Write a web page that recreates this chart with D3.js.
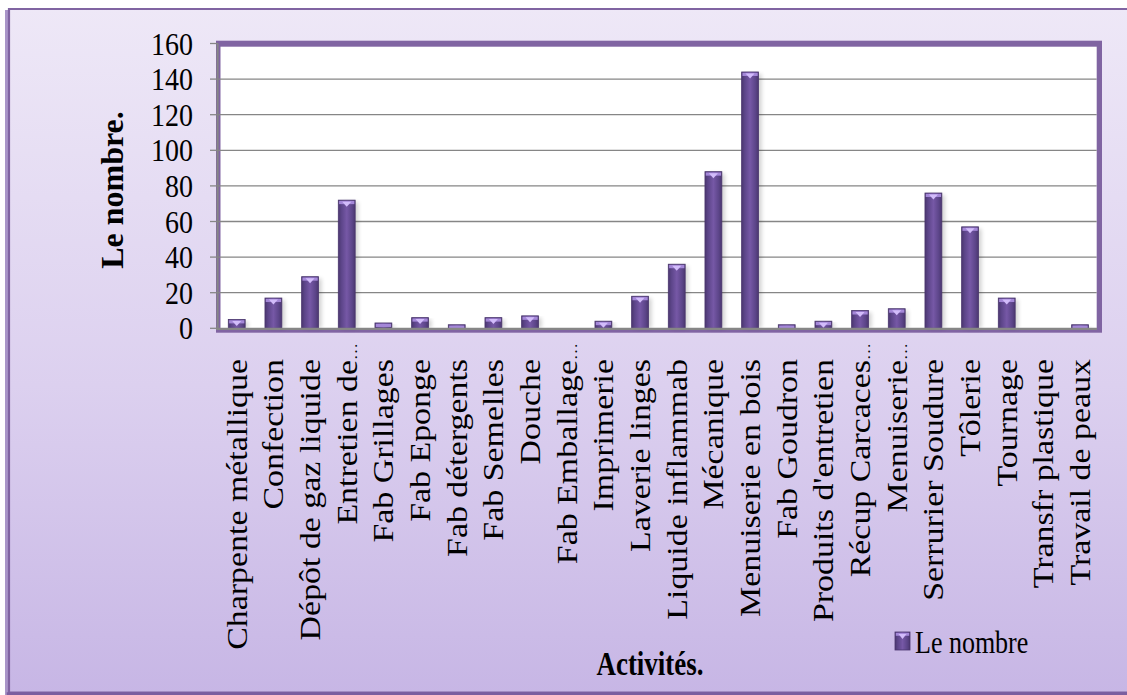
<!DOCTYPE html>
<html lang="fr">
<head>
<meta charset="utf-8">
<title>Le nombre par activité</title>
<script src="https://cdn.jsdelivr.net/npm/d3@7"></script>
<style>
  html, body { margin: 0; padding: 0; background: #ffffff; }
  svg { display: block; }
  text { font-family: "Liberation Serif", "Times New Roman", serif; fill: #000; }
</style>
</head>
<body>
<svg id="chart" width="1127" height="695"></svg>
<script>
// Activités recensées et leur nombre
const categories = [
  "Charpente métallique", "Confection", "Dépôt de gaz liquide", "Entretien de",
  "Fab Grillages", "Fab Eponge", "Fab détergents", "Fab Semelles", "Douche",
  "Fab Emballage", "Imprimerie", "Laverie linges", "Liquide inflammab",
  "Mécanique", "Menuiserie en bois", "Fab Goudron", "Produits d'entretien",
  "Récup Carcaces", "Menuiserie", "Serrurier Soudure", "Tôlerie", "Tournage",
  "Transfr plastique", "Travail de peaux"
];
// labels shortened on the axis (drawn with a trailing ellipsis)
const truncated = ["Entretien de", "Fab Emballage", "Récup Carcaces", "Menuiserie"];
const counts = [5, 17, 29, 72, 3, 6, 2, 6, 7, 0, 4, 18, 36, 88, 144, 2, 4, 10, 11, 76, 57, 17, 0, 2];
const yTicks = [0, 20, 40, 60, 80, 100, 120, 140, 160];
const seriesName = "Le nombre";
const yTitle = "Le nombre.";
const xTitle = "Activités.";

const svg = d3.select("#chart");
const W = 1127, H = 695;

const plot = { left: 218.4, right: 1098.4, top: 43.5, bottom: 328.3 };

const x = d3.scaleBand()
  .domain(categories)
  .range([plot.left, plot.right])
  .paddingInner(0.54)
  .paddingOuter(0.27);

const y = d3.scaleLinear()
  .domain([0, 160])
  .range([plot.bottom, plot.top]);

const defs = svg.append("defs");

// chart background: lavender vertical gradient
const bg = defs.append("linearGradient").attr("id", "bgGrad")
  .attr("x1", 0).attr("y1", 0).attr("x2", 0).attr("y2", 1);
bg.append("stop").attr("offset", "0%").attr("stop-color", "#eee8f7");
bg.append("stop").attr("offset", "55%").attr("stop-color", "#dcd0ef");
bg.append("stop").attr("offset", "100%").attr("stop-color", "#c7b6e5");

// bar body: rounded cylinder-like shading
const barGrad = defs.append("linearGradient").attr("id", "barGrad")
  .attr("x1", 0).attr("y1", 0).attr("x2", 1).attr("y2", 0);
[["0%", "#4b376f"], ["18%", "#5c4589"], ["50%", "#7658a6"], ["82%", "#5c4589"], ["100%", "#4b376f"]]
  .forEach(([o, c]) => barGrad.append("stop").attr("offset", o).attr("stop-color", c));

const shadow = defs.append("filter").attr("id", "barShadow")
  .attr("x", "-50%").attr("y", "-10%").attr("width", "200%").attr("height", "120%");
shadow.append("feGaussianBlur").attr("stdDeviation", 2.2);

// outer frame with its shadow
svg.append("rect").attr("x", 5).attr("y", 10).attr("width", W).attr("height", H)
  .attr("fill", "#a995c8");
svg.append("rect").attr("x", 8).attr("y", 8).attr("width", W).attr("height", H - 8)
  .attr("fill", "url(#bgGrad)");
svg.append("path")
  .attr("d", `M${W + 2},9 H9 V${H - 2.5} H${W + 2}`)
  .attr("fill", "none").attr("stroke", "#8064a2").attr("stroke-width", 2.2);
svg.append("line")
  .attr("x1", 6.7).attr("x2", W).attr("y1", H - 1.3).attr("y2", H - 1.3)
  .attr("stroke", "#7b5e9f").attr("stroke-width", 3);

// plot area frame and background
svg.append("rect")
  .attr("x", 216).attr("y", 40.7)
  .attr("width", 1102 - 216).attr("height", 332.7 - 40.7)
  .attr("fill", "#8064a2");
svg.append("rect")
  .attr("x", 220.5).attr("y", 46.7)
  .attr("width", 1096.7 - 220.5).attr("height", plot.bottom - 46.7)
  .attr("fill", "#ffffff");

// horizontal gridlines
svg.append("g").selectAll("line")
  .data(yTicks.filter(t => t > 0 && t < 160))
  .join("line")
  .attr("x1", plot.left).attr("x2", 1096.7)
  .attr("y1", d => y(d)).attr("y2", d => y(d))
  .attr("stroke", "#868686").attr("stroke-width", 1.3);

// y axis line and tick marks
svg.append("line")
  .attr("x1", 217.6).attr("x2", 217.6)
  .attr("y1", y(160)).attr("y2", plot.bottom + 1)
  .attr("stroke", "#868686").attr("stroke-width", 2);
svg.append("g").selectAll("line")
  .data(yTicks)
  .join("line")
  .attr("x1", 210).attr("x2", 218)
  .attr("y1", d => y(d)).attr("y2", d => y(d))
  .attr("stroke", "#868686").attr("stroke-width", 1.3);

// y tick labels
svg.append("g").selectAll("text")
  .data(yTicks)
  .join("text")
  .attr("transform", d => `translate(193,${y(d) + 11}) scale(1,1.15)`)
  .attr("text-anchor", "end")
  .attr("font-size", 28)
  .text(d => d);

// bars
const bars = svg.append("g");
const barData = categories.map((c, i) => ({ cat: c, value: counts[i] })).filter(d => d.value > 0);

bars.selectAll("rect.shadow")
  .data(barData)
  .join("rect")
  .attr("class", "shadow")
  .attr("x", d => x(d.cat) + 3)
  .attr("y", d => y(d.value) + 2)
  .attr("width", x.bandwidth())
  .attr("height", d => y(0) - y(d.value) - 2)
  .attr("fill", "#000")
  .attr("opacity", 0.18)
  .attr("filter", "url(#barShadow)");

bars.selectAll("rect.body")
  .data(barData)
  .join("rect")
  .attr("class", "body")
  .attr("x", d => x(d.cat))
  .attr("y", d => y(d.value))
  .attr("width", x.bandwidth())
  .attr("height", d => y(0) - y(d.value))
  .attr("fill", "url(#barGrad)")
  .attr("stroke", "#4a366e")
  .attr("stroke-width", 0.8);

// bevelled top cap with its small light wedge
bars.selectAll("rect.cap")
  .data(barData)
  .join("rect")
  .attr("class", "cap")
  .attr("x", d => x(d.cat) + 0.8)
  .attr("y", d => y(d.value) + 0.8)
  .attr("width", x.bandwidth() - 1.6)
  .attr("height", d => Math.min(3.2, y(0) - y(d.value) - 0.8))
  .attr("fill", "#a487d8");

bars.selectAll("path.wedge")
  .data(barData.filter(d => y(0) - y(d.value) > 7))
  .join("path")
  .attr("class", "wedge")
  .attr("d", d => {
    const cx = x(d.cat) + x.bandwidth() / 2, t = y(d.value);
    return `M${cx - 4.5},${t + 1.5} L${cx + 4.5},${t + 1.5} L${cx},${t + 6.5} Z`;
  })
  .attr("fill", "#d2bcfa");

// x axis line
svg.append("line")
  .attr("x1", 216).attr("x2", 1097)
  .attr("y1", plot.bottom + 0.6).attr("y2", plot.bottom + 0.6)
  .attr("stroke", "#868686").attr("stroke-width", 2.2);

// category labels, rotated
const labels = svg.append("g").selectAll("text")
  .data(categories)
  .join("text")
  .attr("transform", d => {
    const cx = x(d) + x.bandwidth() / 2 + 10;
    const endY = truncated.includes(d) ? 343 : 359;
    return `translate(${cx},${endY}) rotate(-90) scale(1.13,1)`;
  })
  .attr("text-anchor", "end")
  .attr("font-size", 30);
labels.append("tspan").text(d => d);
labels.filter(d => truncated.includes(d))
  .append("tspan").attr("font-size", 15).text("…");

// axis titles
svg.append("text")
  .attr("transform", "translate(123,190) rotate(-90)")
  .attr("text-anchor", "middle")
  .attr("font-size", 32)
  .attr("font-weight", "bold")
  .text(yTitle);

svg.append("text")
  .attr("transform", "translate(650,675) scale(1,1.22)")
  .attr("text-anchor", "middle")
  .attr("font-size", 27)
  .attr("font-weight", "bold")
  .text(xTitle);

// legend
const legend = svg.append("g");
legend.append("rect")
  .attr("x", 895).attr("y", 632).attr("width", 15).attr("height", 18)
  .attr("fill", "url(#barGrad)").attr("stroke", "#4a366e").attr("stroke-width", 0.8);
legend.append("rect")
  .attr("x", 895.8).attr("y", 632.8).attr("width", 13.4).attr("height", 3)
  .attr("fill", "#a487d8");
legend.append("path")
  .attr("d", "M898.5,634 L906.5,634 L902.5,639 Z")
  .attr("fill", "#d2bcfa");
legend.append("text")
  .attr("transform", "translate(915,652.5) scale(1,1.25)")
  .attr("font-size", 26)
  .text(seriesName);
</script>
</body>
</html>
